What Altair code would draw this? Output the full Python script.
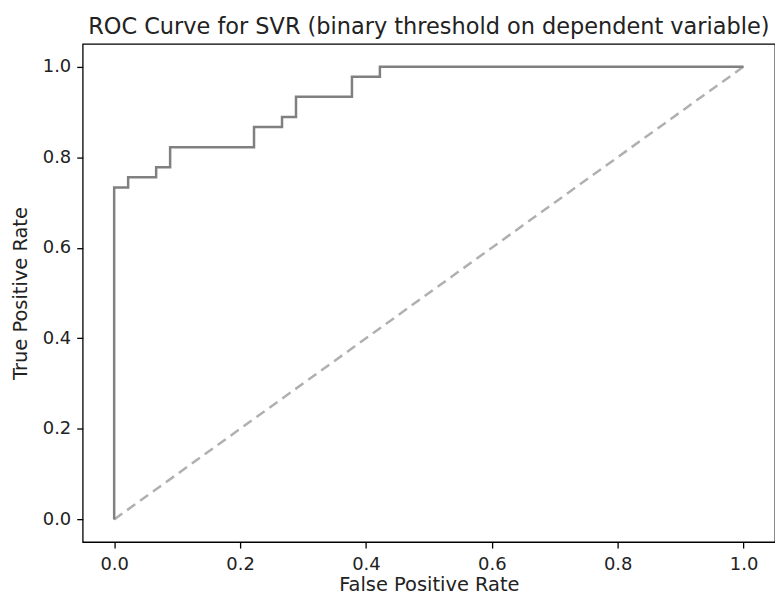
import altair as alt
import pandas as pd

fpr = [0.0, 0.0, 0.0222, 0.0222, 0.0667, 0.0667, 0.0889, 0.0889, 0.2222, 0.2222,
       0.2667, 0.2667, 0.2889, 0.2889, 0.3778, 0.3778, 0.4222, 0.4222, 1.0]
tpr = [0.0, 0.7333, 0.7333, 0.7556, 0.7556, 0.7778, 0.7778, 0.8222, 0.8222, 0.8667,
       0.8667, 0.8889, 0.8889, 0.9333, 0.9333, 0.9778, 0.9778, 1.0, 1.0]
diag_x = [0.0, 1.0]
diag_y = [0.0, 1.0]
ticks = [0.0, 0.2, 0.4, 0.6, 0.8, 1.0]

roc = pd.DataFrame({"fpr": fpr, "tpr": tpr, "order": list(range(len(fpr)))})
diag = pd.DataFrame({"fpr": diag_x, "tpr": diag_y, "order": [0, 1]})

font = "DejaVu Sans"
xs = alt.Scale(domain=[-0.05, 1.05], nice=False, zero=False)
ys = alt.Scale(domain=[-0.05, 1.05], nice=False, zero=False)

common = dict(values=ticks, format=".1f", grid=False, tickSize=6, tickWidth=1.3,
              tickColor="black", domain=False, labelColor="#222222",
              labelFont=font, labelFontSize=18, titleFont=font, titleFontSize=19.5,
              titleFontWeight="normal", titleColor="#222222")
xaxis = alt.Axis(title="False Positive Rate", labelPadding=8, titlePadding=2, **common)
yaxis = alt.Axis(title="True Positive Rate", labelPadding=6, titlePadding=12, **common)

diag_line = alt.Chart(diag).mark_line(color="#b0b0b0", strokeWidth=2.5, strokeDash=[10, 6]).encode(
    x=alt.X("fpr:Q", scale=xs, axis=xaxis),
    y=alt.Y("tpr:Q", scale=ys, axis=yaxis),
    order="order:Q",
)
roc_line = alt.Chart(roc).mark_line(color="#808080", strokeWidth=2.5).encode(
    x=alt.X("fpr:Q", scale=xs, axis=xaxis),
    y=alt.Y("tpr:Q", scale=ys, axis=yaxis),
    order="order:Q",
)

chart = (diag_line + roc_line).properties(
    width=695,
    height=500,
    title=alt.TitleParams("ROC Curve for SVR (binary threshold on dependent variable)",
                          font=font, fontSize=22.5, fontWeight="normal", color="#222222",
                          anchor="middle", offset=6),
    autosize=alt.AutoSizeParams(type="none"),
    padding={"left": 75, "top": 35, "right": 0, "bottom": 55},
).configure_view(stroke="black", strokeWidth=1.3)

chart.save("out.html", embed_options={"renderer": "svg", "actions": False})
